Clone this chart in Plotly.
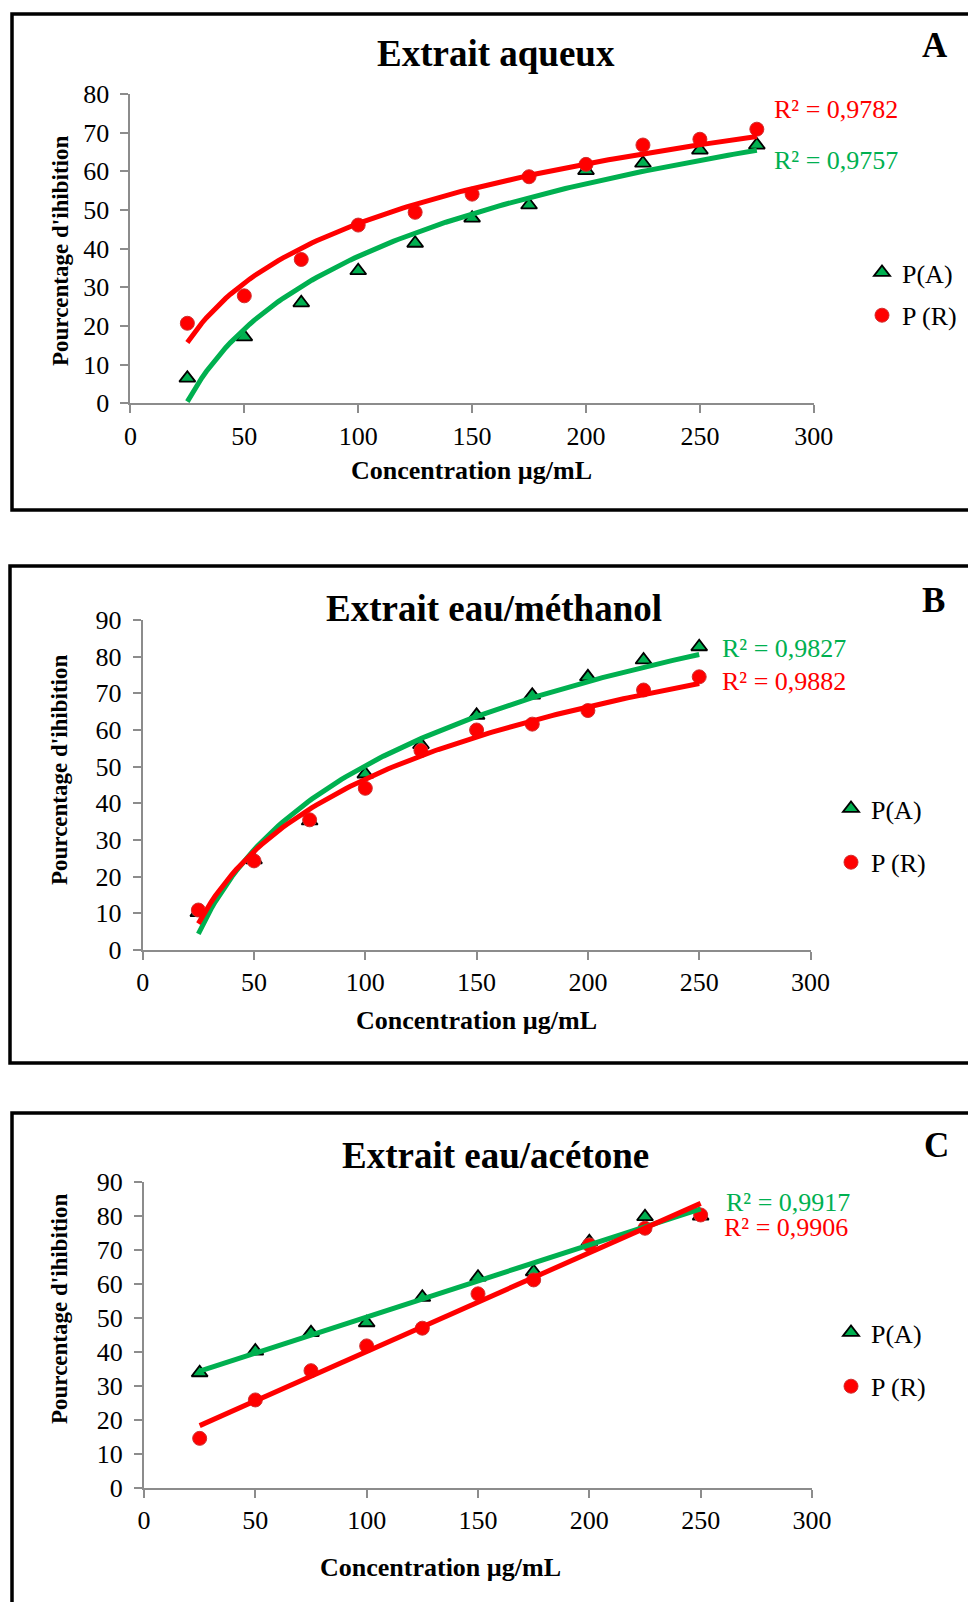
import numpy as np
import plotly.graph_objects as go

W, H = 968, 1602

# ---------------- data ----------------
conc_A = [25, 50, 75, 100, 125, 150, 175, 200, 225, 250, 275]
pa_A = [6.5, 17.2, 26.0, 34.3, 41.4, 47.9, 51.3, 60.2, 62.1, 65.5, 66.8]
pr_A = [20.7, 27.8, 37.2, 46.1, 49.4, 54.1, 58.6, 61.8, 66.8, 68.3, 70.9]

conc_B = [25, 50, 75, 100, 125, 150, 175, 200, 225, 250]
pa_B = [10.2, 24.6, 35.2, 48.0, 56.0, 64.0, 69.5, 74.5, 79.1, 82.7]
pr_B = [10.9, 24.3, 35.5, 44.1, 54.4, 60.0, 61.6, 65.3, 70.9, 74.5]

conc_C = [25, 50, 75, 100, 125, 150, 175, 200, 225, 250]
pa_C = [33.9, 40.3, 45.7, 48.6, 56.1, 62.0, 63.6, 72.4, 79.8, 80.0]
pr_C = [14.6, 25.9, 34.5, 41.8, 47.0, 57.1, 61.2, 71.5, 76.4, 80.3]

titles = ["Extrait aqueux", "Extrait eau/méthanol", "Extrait eau/acétone"]
letters = ["A", "B", "C"]
r2_A = ["R² = 0,9757", "R² = 0,9827", "R² = 0,9917"]
r2_R = ["R² = 0,9782", "R² = 0,9882", "R² = 0,9906"]
fit_kind = ["log", "log", "linear"]
y_max = [80, 90, 90]
x_ticks = [0, 50, 100, 150, 200, 250, 300]
name_A = "P(A)"
name_R = "P (R)"
x_title = "Concentration µg/mL"
y_title = "Pourcentage d'ihibition"

GREEN = "#00B050"
RED = "#FF0000"
FONT = "Liberation Serif"

def X(px):
    return px / W

def Y(py):
    return 1 - py / H

# plot-area pixel boxes: (x0, x1, ytop, ybottom)
boxes = [(130.4, 813.8, 94, 403.3), (142.7, 810.5, 620, 950), (144, 812, 1182, 1488)]

panels = [(conc_A, pa_A, pr_A), (conc_B, pa_B, pr_B), (conc_C, pa_C, pr_C)]

def fit_curve(x, y, kind):
    x = np.asarray(x, float)
    y = np.asarray(y, float)
    xs = np.linspace(x.min(), x.max(), 120)
    if kind == "log":
        a, b = np.polyfit(np.log(x), y, 1)
        return xs, a * np.log(xs) + b
    a, b = np.polyfit(x, y, 1)
    return xs, a * xs + b

fig = go.Figure()
legend_names = ["legend", "legend2", "legend3"]

for i, (cx, ya, yr) in enumerate(panels):
    xa = "x" if i == 0 else f"x{i+1}"
    ya_ref = "y" if i == 0 else f"y{i+1}"
    lg = legend_names[i]
    fig.add_trace(go.Scatter(
        x=cx, y=ya, mode="markers", name=name_A, xaxis=xa, yaxis=ya_ref,
        legend=lg, legendgroup=f"a{i}",
        marker=dict(symbol="triangle-up", size=14, color=GREEN,
                    line=dict(color="black", width=1.8))))
    fig.add_trace(go.Scatter(
        x=cx, y=yr, mode="markers", name=name_R, xaxis=xa, yaxis=ya_ref,
        legend=lg, legendgroup=f"r{i}",
        marker=dict(symbol="circle", size=14, color=RED,
                    line=dict(color="#D03030", width=1))))
    fxa, fya = fit_curve(cx, ya, fit_kind[i])
    fxr, fyr = fit_curve(cx, yr, fit_kind[i])
    fig.add_trace(go.Scatter(x=fxa, y=fya, mode="lines", showlegend=False,
                             xaxis=xa, yaxis=ya_ref, hoverinfo="skip",
                             line=dict(color=GREEN, width=5)))
    fig.add_trace(go.Scatter(x=fxr, y=fyr, mode="lines", showlegend=False,
                             xaxis=xa, yaxis=ya_ref, hoverinfo="skip",
                             line=dict(color=RED, width=5)))

layout = dict(
    width=W, height=H, margin=dict(l=0, r=0, t=0, b=0, pad=0, autoexpand=False),
    paper_bgcolor="white", plot_bgcolor="white",
    font=dict(family=FONT, size=26, color="black"),
    showlegend=True,
)

axis_common = dict(
    showgrid=False, zeroline=False, showline=True, linecolor="#8C8C8C",
    linewidth=2, ticks="outside", ticklen=8, tickwidth=2, tickcolor="#8C8C8C",
    tickfont=dict(family=FONT, size=26, color="black"), automargin=False,
)

for i, (x0, x1, yt, yb) in enumerate(boxes):
    sfx = "" if i == 0 else str(i + 1)
    layout[f"xaxis{sfx}"] = dict(
        axis_common, domain=[X(x0), X(x1)], range=[0, 300],
        tickvals=x_ticks, anchor=f"y{sfx}", ticklabelstandoff=0)
    layout[f"yaxis{sfx}"] = dict(
        axis_common, domain=[Y(yb), Y(yt)], range=[0, y_max[i]],
        dtick=10, anchor=f"x{sfx}", ticklabelstandoff=6)

# legends
legend_pos = [(862, 249, 6), (831, 785, 17), (831, 1309, 17)]
for i, (lx, ly, gap) in enumerate(legend_pos):
    layout[legend_names[i]] = dict(
        x=X(lx), y=Y(ly), xanchor="left", yanchor="top",
        bgcolor="rgba(0,0,0,0)", borderwidth=0,
        font=dict(family=FONT, size=26, color="black"),
        traceorder="grouped", tracegroupgap=gap, itemwidth=30)

annotations = []
title_pos = [(496, 54), (494, 609), (496, 1155)]
letter_pos = [(935, 46), (933, 600), (936, 1145)]
xt_pos = [(471, 471), (476, 1020), (440, 1567)]
yt_pos = [(60, 251), (59, 770), (59, 1309)]
r2a_pos = [(772, 160), (720, 648), (724, 1202)]
r2r_pos = [(772, 110), (720, 682), (722, 1227)]

def ann(text, pos, size, color="black", xanchor="center", angle=0):
    return dict(text=text, x=X(pos[0]), y=Y(pos[1]), xref="paper", yref="paper",
                showarrow=False, xanchor=xanchor, yanchor="middle", textangle=angle,
                font=dict(family=FONT, size=size, color=color))

for i in range(3):
    annotations.append(ann(f"<b>{titles[i]}</b>", title_pos[i], 37))
    annotations.append(ann(f"<b>{letters[i]}</b>", letter_pos[i], 35))
    annotations.append(ann(f"<b>{x_title}</b>", xt_pos[i], 26))
    annotations.append(ann(f"<b>{y_title}</b>", yt_pos[i], 23, angle=-90))
    annotations.append(ann(r2_A[i], r2a_pos[i], 26, GREEN, "left"))
    annotations.append(ann(r2_R[i], r2r_pos[i], 26, RED, "left"))

layout["annotations"] = annotations

# panel frames
frames = [(12, 14, 985, 510), (10, 566, 985, 1063), (12, 1113, 985, 1620)]
layout["shapes"] = [dict(type="rect", xref="paper", yref="paper",
                         x0=X(a), y0=Y(b), x1=X(c), y1=Y(d),
                         line=dict(color="black", width=3.5), fillcolor="rgba(0,0,0,0)",
                         layer="below")
                    for (a, b, c, d) in frames]

fig.update_layout(**layout)
fig.write_html(
    "out.html",
    config={"displayModeBar": False},
    post_script="document.body.style.margin='0';document.body.style.overflow='hidden';",
)
